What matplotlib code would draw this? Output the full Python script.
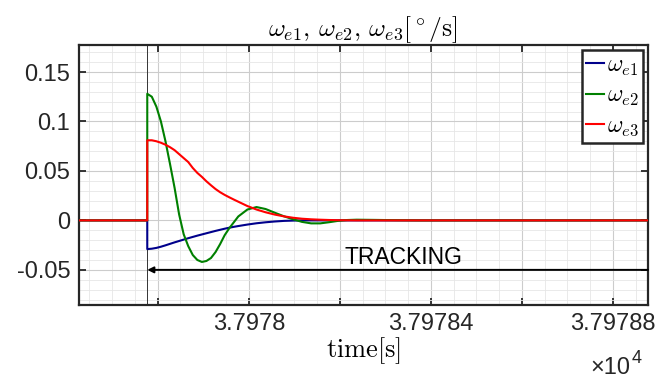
"""Angular velocity error transient (MATLAB style figure)."""

import matplotlib
matplotlib.use("Agg")
import matplotlib.pyplot as plt
from matplotlib.ticker import FixedLocator, FixedFormatter, MultipleLocator

plt.rcParams["font.family"] = "Liberation Sans"
plt.rcParams["mathtext.fontset"] = "cm"
plt.rcParams["axes.unicode_minus"] = False

# data
t_start = 37977.626
t_step = 37977.777
t_end = 37978.877

tau = [0.00, 0.01, 0.02, 0.03, 0.04, 0.05, 0.06, 0.07, 0.08, 0.09,
       0.10, 0.11, 0.12, 0.13, 0.14, 0.15, 0.16, 0.17, 0.18, 0.19,
       0.20, 0.22, 0.24, 0.26, 0.28, 0.30, 0.32, 0.34, 0.36, 0.38,
       0.40, 0.42, 0.44, 0.46, 0.50, 0.55, 0.60, 0.80, 1.10]

w_e1 = [-0.0290, -0.0286, -0.0278, -0.0266, -0.0252, -0.0237, -0.0222, -0.0208, -0.0194, -0.0180,
        -0.0167, -0.0154, -0.0142, -0.0130, -0.0118, -0.0106, -0.0095, -0.0084, -0.0074, -0.0065,
        -0.0057, -0.0042, -0.0029, -0.0019, -0.0011, -0.0005, -0.0002, 0.0, 0.0, 0.0,
        0.0, 0.0, 0.0, 0.0, 0.0, 0.0, 0.0, 0.0, 0.0]

w_e2 = [0.128, 0.125, 0.115, 0.100, 0.080, 0.057, 0.033, 0.006, -0.014, -0.026,
        -0.035, -0.040, -0.042, -0.041, -0.038, -0.032, -0.024, -0.015, -0.008, -0.002,
        0.004, 0.011, 0.0135, 0.0115, 0.0078, 0.0042, 0.0012, -0.0015, -0.0030, -0.0030,
        -0.0018, -0.0004, 0.0004, 0.0007, 0.0005, 0.0002, 0.0, 0.0, 0.0]

w_e3 = [0.081, 0.081, 0.080, 0.0785, 0.0765, 0.074, 0.071, 0.067, 0.063, 0.059,
        0.053, 0.048, 0.044, 0.0395, 0.0355, 0.0317, 0.0285, 0.0258, 0.0234, 0.0211,
        0.0189, 0.0145, 0.0110, 0.0082, 0.0059, 0.0041, 0.0027, 0.0017, 0.0011, 0.0007,
        0.0004, 0.0002, 0.0001, 0.0, 0.0, 0.0, 0.0, 0.0, 0.0]

x_ticks = [37977.8, 37978.0, 37978.2, 37978.4, 37978.6, 37978.8]
x_tick_labels = ["", "3.7978", "", "3.79784", "", "3.79788"]
y_ticks = [-0.05, 0, 0.05, 0.1, 0.15]
y_tick_labels = ["-0.05", "0", "0.05", "0.1", "0.15"]

tracking_y = -0.05


def with_step(values):
    # zero before the step, then jump
    t = [t_start, t_step] + [t_step + v for v in tau]
    return t, [0.0, 0.0] + list(values)


fig = plt.figure(figsize=(6.61, 3.8), dpi=100)
ax = fig.add_axes([0.1188, 0.1974, 0.8615, 0.6834])

ax.axvline(t_step, color="#333333", linewidth=0.7, zorder=2)

series = [(w_e1, "#00008b", r"$\omega_{e1}$"),
          (w_e2, "#008000", r"$\omega_{e2}$"),
          (w_e3, "#ff0000", r"$\omega_{e3}$")]
for values, color, label in series:
    t, v = with_step(values)
    ax.plot(t, v, color=color, linewidth=1.5, label=label, zorder=3)

ax.annotate("", xy=(t_step, tracking_y), xytext=(t_end, tracking_y),
            arrowprops=dict(arrowstyle="-|>", color="black", lw=1.4,
                            mutation_scale=9, shrinkA=0, shrinkB=0),
            zorder=4)
ax.text(37978.210, -0.0375, "TRACKING", fontsize=16.5, va="center", ha="left",
        color="black", zorder=4)

ax.set_xlim(t_start, t_end)
ax.set_ylim(-0.0855, 0.177)

ax.xaxis.set_major_locator(FixedLocator(x_ticks))
ax.xaxis.set_major_formatter(FixedFormatter(x_tick_labels))
ax.yaxis.set_major_locator(FixedLocator(y_ticks))
ax.yaxis.set_major_formatter(FixedFormatter(y_tick_labels))
ax.xaxis.set_minor_locator(MultipleLocator(0.05))
ax.yaxis.set_minor_locator(MultipleLocator(0.01))

ax.tick_params(which="major", direction="in", length=5, width=1.3,
               top=True, right=True, labelsize=17, colors="#262626", pad=6)
ax.tick_params(which="minor", length=0, top=True, right=True)

ax.grid(True, which="major", color="#cccccc", linewidth=0.8)
ax.grid(True, which="minor", color="#e6e6e6", linewidth=0.6)
ax.set_axisbelow(True)
for sp in ax.spines.values():
    sp.set_linewidth(1.6)
    sp.set_color("#262626")

ax.set_title(r"$\omega_{e1},\,\omega_{e2},\,\omega_{e3}[^\circ/\mathrm{s}]$",
             fontsize=18.5, pad=5)
ax.set_xlabel(r"$\mathrm{time[s]}$", fontsize=19, labelpad=0)

fig.text(0.893, 0.016, "\u00d710", fontsize=17, color="#262626")
fig.text(0.955, 0.044, "4", fontsize=13, color="#262626")

leg = ax.legend(loc="upper right", fontsize=17, frameon=True, fancybox=False,
                handlelength=0.75, handletextpad=0.1, labelspacing=0.3,
                borderpad=0.2, borderaxespad=0.2)
leg.get_frame().set_edgecolor("#262626")
leg.get_frame().set_linewidth(1.8)
leg.get_frame().set_alpha(1.0)

fig.savefig("out.png", dpi=100)
